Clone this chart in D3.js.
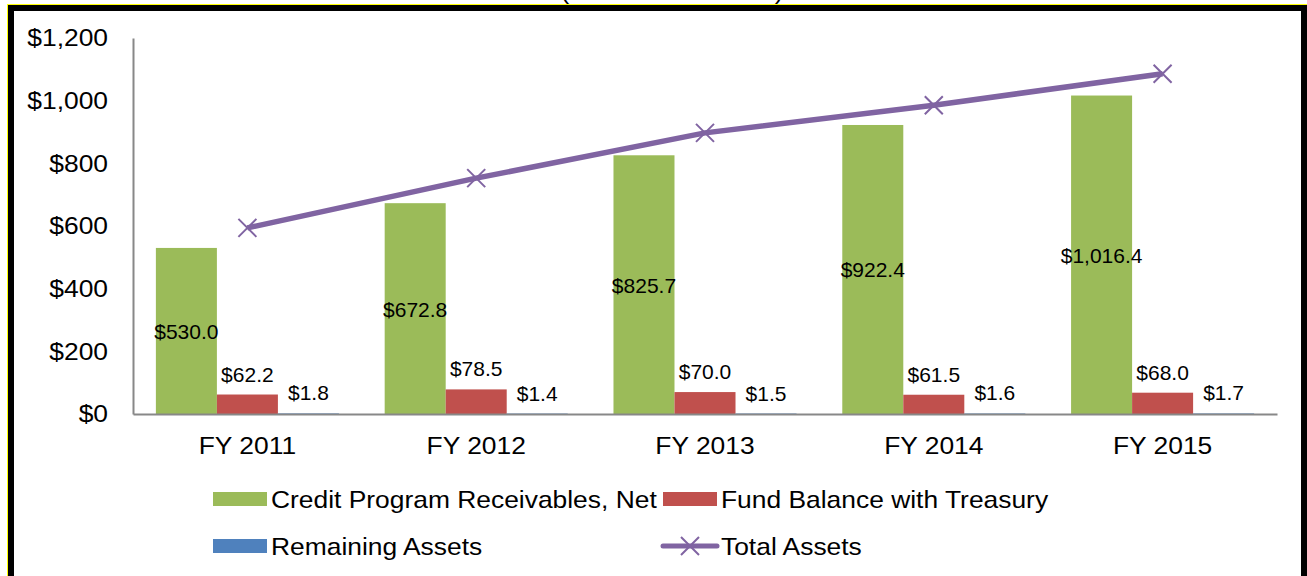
<!DOCTYPE html>
<html>
<head>
<meta charset="utf-8">
<script src="https://cdn.jsdelivr.net/npm/d3@7"></script>
<style>
  body { margin: 0; background: #fff; }
  svg { display: block; font-family: "Liberation Sans", Arial, sans-serif; }
</style>
</head>
<body>
<div id="chart"></div>
<script>
// data
var years = ["FY 2011", "FY 2012", "FY 2013", "FY 2014", "FY 2015"];
var credit_receivables = [530.0, 672.8, 825.7, 922.4, 1016.4];
var fund_balance = [62.2, 78.5, 70.0, 61.5, 68.0];
var remaining_assets = [1.8, 1.4, 1.5, 1.6, 1.7];
var total_assets = [594.0, 752.7, 897.2, 985.5, 1086.1];
var y_ticks = [0, 200, 400, 600, 800, 1000, 1200];

var series = [
    { name: "Credit Program Receivables, Net", values: credit_receivables, color: "#9BBB59", label: "center" },
    { name: "Fund Balance with Treasury", values: fund_balance, color: "#C0504D", label: "out" },
    { name: "Remaining Assets", values: remaining_assets, color: "#4F81BD", label: "out" }
];
var line_color = "#8064A2";

var width = 1307, height = 576;
var plot = { left: 133, right: 1277, top: 38, bottom: 414 };
// the source text is a bit wider than plain Arial
var STRETCH = 1.1;

var svg = d3.select("#chart").append("svg")
    .attr("width", width)
    .attr("height", height);

svg.append("rect").attr("width", width).attr("height", height).attr("fill", "#fff");

// widen a text horizontally around its own x anchor
function stretch(sel) {
    sel.each(function () {
        var ax = +d3.select(this).attr("x") || 0;
        d3.select(this).attr("transform",
            "translate(" + ax + ",0) scale(" + STRETCH + ",1) translate(" + (-ax) + ",0)");
    });
}

// clipped title above the frame
svg.append("text")
    .attr("x", 672).attr("y", -1)
    .attr("text-anchor", "middle")
    .style("font-size", "24px")
    .text("(Dollars in Millions)")
    .call(stretch);

var x = d3.scaleBand()
    .domain(years)
    .range([plot.left, plot.right])
    .paddingInner(0.2)
    .paddingOuter(0.1);

var x_inner = d3.scaleBand()
    .domain(d3.range(series.length))
    .range([0, x.bandwidth()]);

var y = d3.scaleLinear()
    .domain([0, 1200])
    .range([plot.bottom, plot.top]);

var fmt = function (v) { return "$" + d3.format(",.1f")(v); };

// bars
series.forEach(function (s, si) {
    var g = svg.append("g");
    g.selectAll("rect")
     .data(s.values)
     .enter()
     .append("rect")
     .attr("x", function (d, i) { return x(years[i]) + x_inner(si); })
     .attr("y", function (d) { return y(d); })
     .attr("width", x_inner.bandwidth())
     .attr("height", function (d) { return y(0) - y(d); })
     .attr("fill", s.color);
});

// axes
var y_axis = svg.append("g")
    .attr("transform", "translate(" + plot.left + ",0)")
    .call(d3.axisLeft(y).tickValues(y_ticks).tickSize(0).tickPadding(25)
          .tickFormat(function (d) { return "$" + d3.format(",")(d); }));
y_axis.select(".domain").attr("stroke", "#888").attr("stroke-width", 2);
y_axis.selectAll("text").style("font-size", "24px").attr("fill", "#000").call(stretch);

var x_axis = svg.append("g")
    .attr("transform", "translate(0," + plot.bottom + ")")
    .call(d3.axisBottom(x).tickSize(0).tickPadding(23).tickSizeOuter(0));
x_axis.select(".domain").attr("stroke", "#888").attr("stroke-width", 2);
x_axis.selectAll("text").style("font-size", "24px").attr("fill", "#000").call(stretch);

// total assets line
var line = d3.line()
    .x(function (d, i) { return x(years[i]) + x.bandwidth() / 2; })
    .y(function (d) { return y(d); });

svg.append("path")
    .datum(total_assets)
    .attr("d", line)
    .attr("fill", "none")
    .attr("stroke", line_color)
    .attr("stroke-width", 5.5);

function draw_cross(g, cx, cy, r) {
    g.append("path")
     .attr("d", "M" + (cx - r) + "," + (cy - r) + "L" + (cx + r) + "," + (cy + r) +
                "M" + (cx - r) + "," + (cy + r) + "L" + (cx + r) + "," + (cy - r))
     .attr("stroke", line_color)
     .attr("stroke-width", 2)
     .attr("fill", "none");
}

var markers = svg.append("g");
total_assets.forEach(function (d, i) {
    draw_cross(markers, x(years[i]) + x.bandwidth() / 2, y(d), 9);
});

// data labels
series.forEach(function (s, si) {
    svg.append("g").selectAll("text")
       .data(s.values)
       .enter()
       .append("text")
       .attr("x", function (d, i) { return x(years[i]) + x_inner(si) + x_inner.bandwidth() / 2; })
       .attr("y", function (d) {
           return s.label == "center" ? (y(d) + y(0)) / 2 + 8 : y(d) - 13;
       })
       .attr("text-anchor", "middle")
       .style("font-size", "21px")
       .text(function (d) { return fmt(d); });
});

// legend
var legend_items = [
    { name: series[0].name, color: series[0].color, type: "rect", x: 213, y: 499 },
    { name: series[1].name, color: series[1].color, type: "rect", x: 663, y: 499 },
    { name: series[2].name, color: series[2].color, type: "rect", x: 213, y: 546 },
    { name: "Total Assets", color: line_color, type: "line", x: 663, y: 546 }
];
var legend = svg.append("g");
legend_items.forEach(function (it) {
    if (it.type == "rect") {
        legend.append("rect")
              .attr("x", it.x).attr("y", it.y - 7)
              .attr("width", 54).attr("height", 14)
              .attr("fill", it.color);
    } else {
        legend.append("line")
              .attr("x1", it.x).attr("x2", it.x + 54)
              .attr("y1", it.y).attr("y2", it.y)
              .attr("stroke", it.color).attr("stroke-width", 5)
              .attr("stroke-linecap", "round");
        draw_cross(legend, it.x + 27, it.y, 9);
    }
    legend.append("text")
          .attr("x", it.x + 58).attr("y", it.y + 9)
          .style("font-size", "24px")
          .text(it.name)
          .call(stretch);
});

// frame
svg.append("rect")
   .attr("x", 7.5).attr("y", 4.5)
   .attr("width", 1310).attr("height", 600)
   .attr("fill", "none").attr("stroke", "#ffff00").attr("stroke-width", 1);
svg.append("rect")
   .attr("x", 11).attr("y", 8)
   .attr("width", 1293).attr("height", 600)
   .attr("fill", "none").attr("stroke", "#000").attr("stroke-width", 6);
</script>
</body>
</html>
